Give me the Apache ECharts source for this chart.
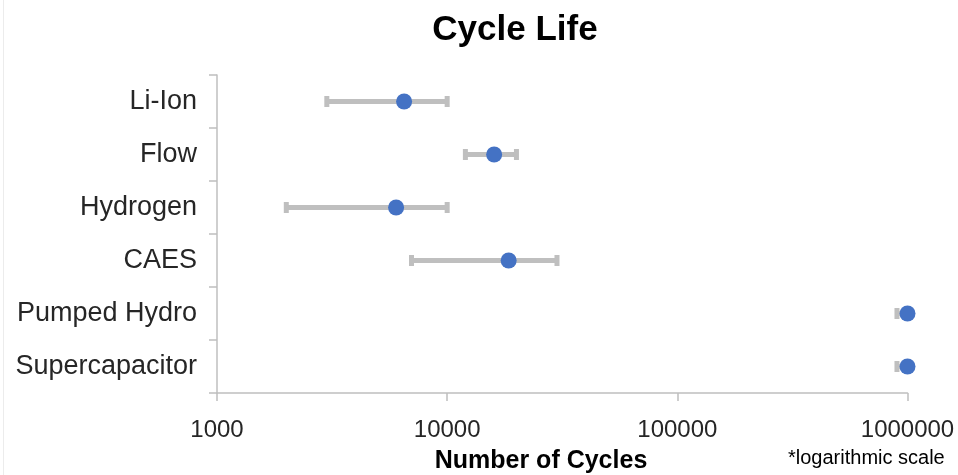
<!DOCTYPE html>
<html>
<head>
<meta charset="utf-8">
<script src="https://cdn.jsdelivr.net/npm/echarts@6/dist/echarts.min.js"></script>
<style>
  html, body { margin: 0; padding: 0; background: #ffffff; }
  #chart { width: 958px; height: 475px; }
</style>
</head>
<body>
<div id="chart"></div>
<script>
// Storage technologies and their cycle-life figures
const categories = ['Li-Ion', 'Flow', 'Hydrogen', 'CAES', 'Pumped Hydro', 'Supercapacitor'];
const averageCycles = [6500, 16000, 6000, 18500, 1000000, 1000000];
const minCycles = [3000, 12000, 2000, 7000, 900000, 900000];
const maxCycles = [10000, 20000, 10000, 30000, 1100000, 1100000];
const xTickValues = [1000, 10000, 100000, 1000000];

const FONT = '"Liberation Sans", Arial, sans-serif';
const AXIS_GREY = '#bfbfbf';
const BAR_GREY = '#bfbfbf';
const DOT_BLUE = '#4472c4';

const rangeData = categories.map((c, i) => [minCycles[i], maxCycles[i], c]);
const pointData = categories.map((c, i) => [averageCycles[i], c]);

// Horizontal range bar with square end caps
function renderRange(params, api) {
  const cat = api.value(2);
  const p0 = api.coord([api.value(0), cat]);
  const p1 = api.coord([api.value(1), cat]);
  const capW = 5, capH = 11, barW = 5;
  return {
    type: 'group',
    children: [
      { type: 'line', shape: { x1: p0[0], y1: p0[1], x2: p1[0], y2: p1[1] },
        style: { stroke: BAR_GREY, lineWidth: barW } },
      { type: 'rect', shape: { x: p0[0] - capW / 2, y: p0[1] - capH / 2, width: capW, height: capH },
        style: { fill: BAR_GREY } },
      { type: 'rect', shape: { x: p1[0] - capW / 2, y: p1[1] - capH / 2, width: capW, height: capH },
        style: { fill: BAR_GREY } }
    ]
  };
}

const chart = echarts.init(document.getElementById('chart'), null, { renderer: 'canvas' });
chart.setOption({
  animation: false,
  backgroundColor: '#ffffff',
  title: {
    text: 'Cycle Life',
    left: 510,
    top: 8,
    textAlign: 'center',
    textStyle: { fontFamily: FONT, fontSize: 35, fontWeight: 'bold', color: '#000000' }
  },
  grid: { left: 217, right: 50.5, top: 75, bottom: 82, containLabel: false },
  xAxis: {
    type: 'log',
    logBase: 10,
    min: xTickValues[0],
    max: xTickValues[xTickValues.length - 1],
    splitLine: { show: false },
    axisLine: { show: true, lineStyle: { color: AXIS_GREY, width: 1.5 } },
    axisTick: { show: true, length: 8, lineStyle: { color: AXIS_GREY, width: 1.5 } },
    axisLabel: {
      margin: 25,
      fontFamily: FONT,
      fontSize: 24,
      color: '#262626',
      formatter: v => String(Math.round(v))
    }
  },
  yAxis: {
    type: 'category',
    data: categories,
    inverse: true,
    axisLine: { show: true, lineStyle: { color: AXIS_GREY, width: 1.5 } },
    axisTick: { show: true, length: 8, lineStyle: { color: AXIS_GREY, width: 1.5 } },
    axisLabel: { margin: 20, fontFamily: FONT, fontSize: 27, color: '#262626' },
    splitLine: { show: false }
  },
  series: [
    {
      type: 'custom',
      name: 'Range',
      renderItem: renderRange,
      encode: { x: [0, 1], y: 2 },
      data: rangeData,
      clip: true,
      z: 2
    },
    {
      type: 'scatter',
      name: 'Average',
      data: pointData,
      symbol: 'circle',
      symbolSize: 16,
      itemStyle: { color: DOT_BLUE, opacity: 1 },
      clip: false,
      z: 3
    }
  ],
  graphic: [
    { type: 'line', shape: { x1: 3.5, y1: 0, x2: 3.5, y2: 475 },
      style: { stroke: '#ececec', lineWidth: 1 }, silent: true },
    { type: 'text', x: 541, y: 461,
      style: { text: 'Number of Cycles', font: 'bold 25px ' + FONT, fill: '#000000',
               textAlign: 'center', textVerticalAlign: 'middle' } },
    { type: 'text', x: 788, y: 458,
      style: { text: '*logarithmic scale', font: '20px ' + FONT, fill: '#000000',
               textAlign: 'left', textVerticalAlign: 'middle' } }
  ]
});
</script>
</body>
</html>
